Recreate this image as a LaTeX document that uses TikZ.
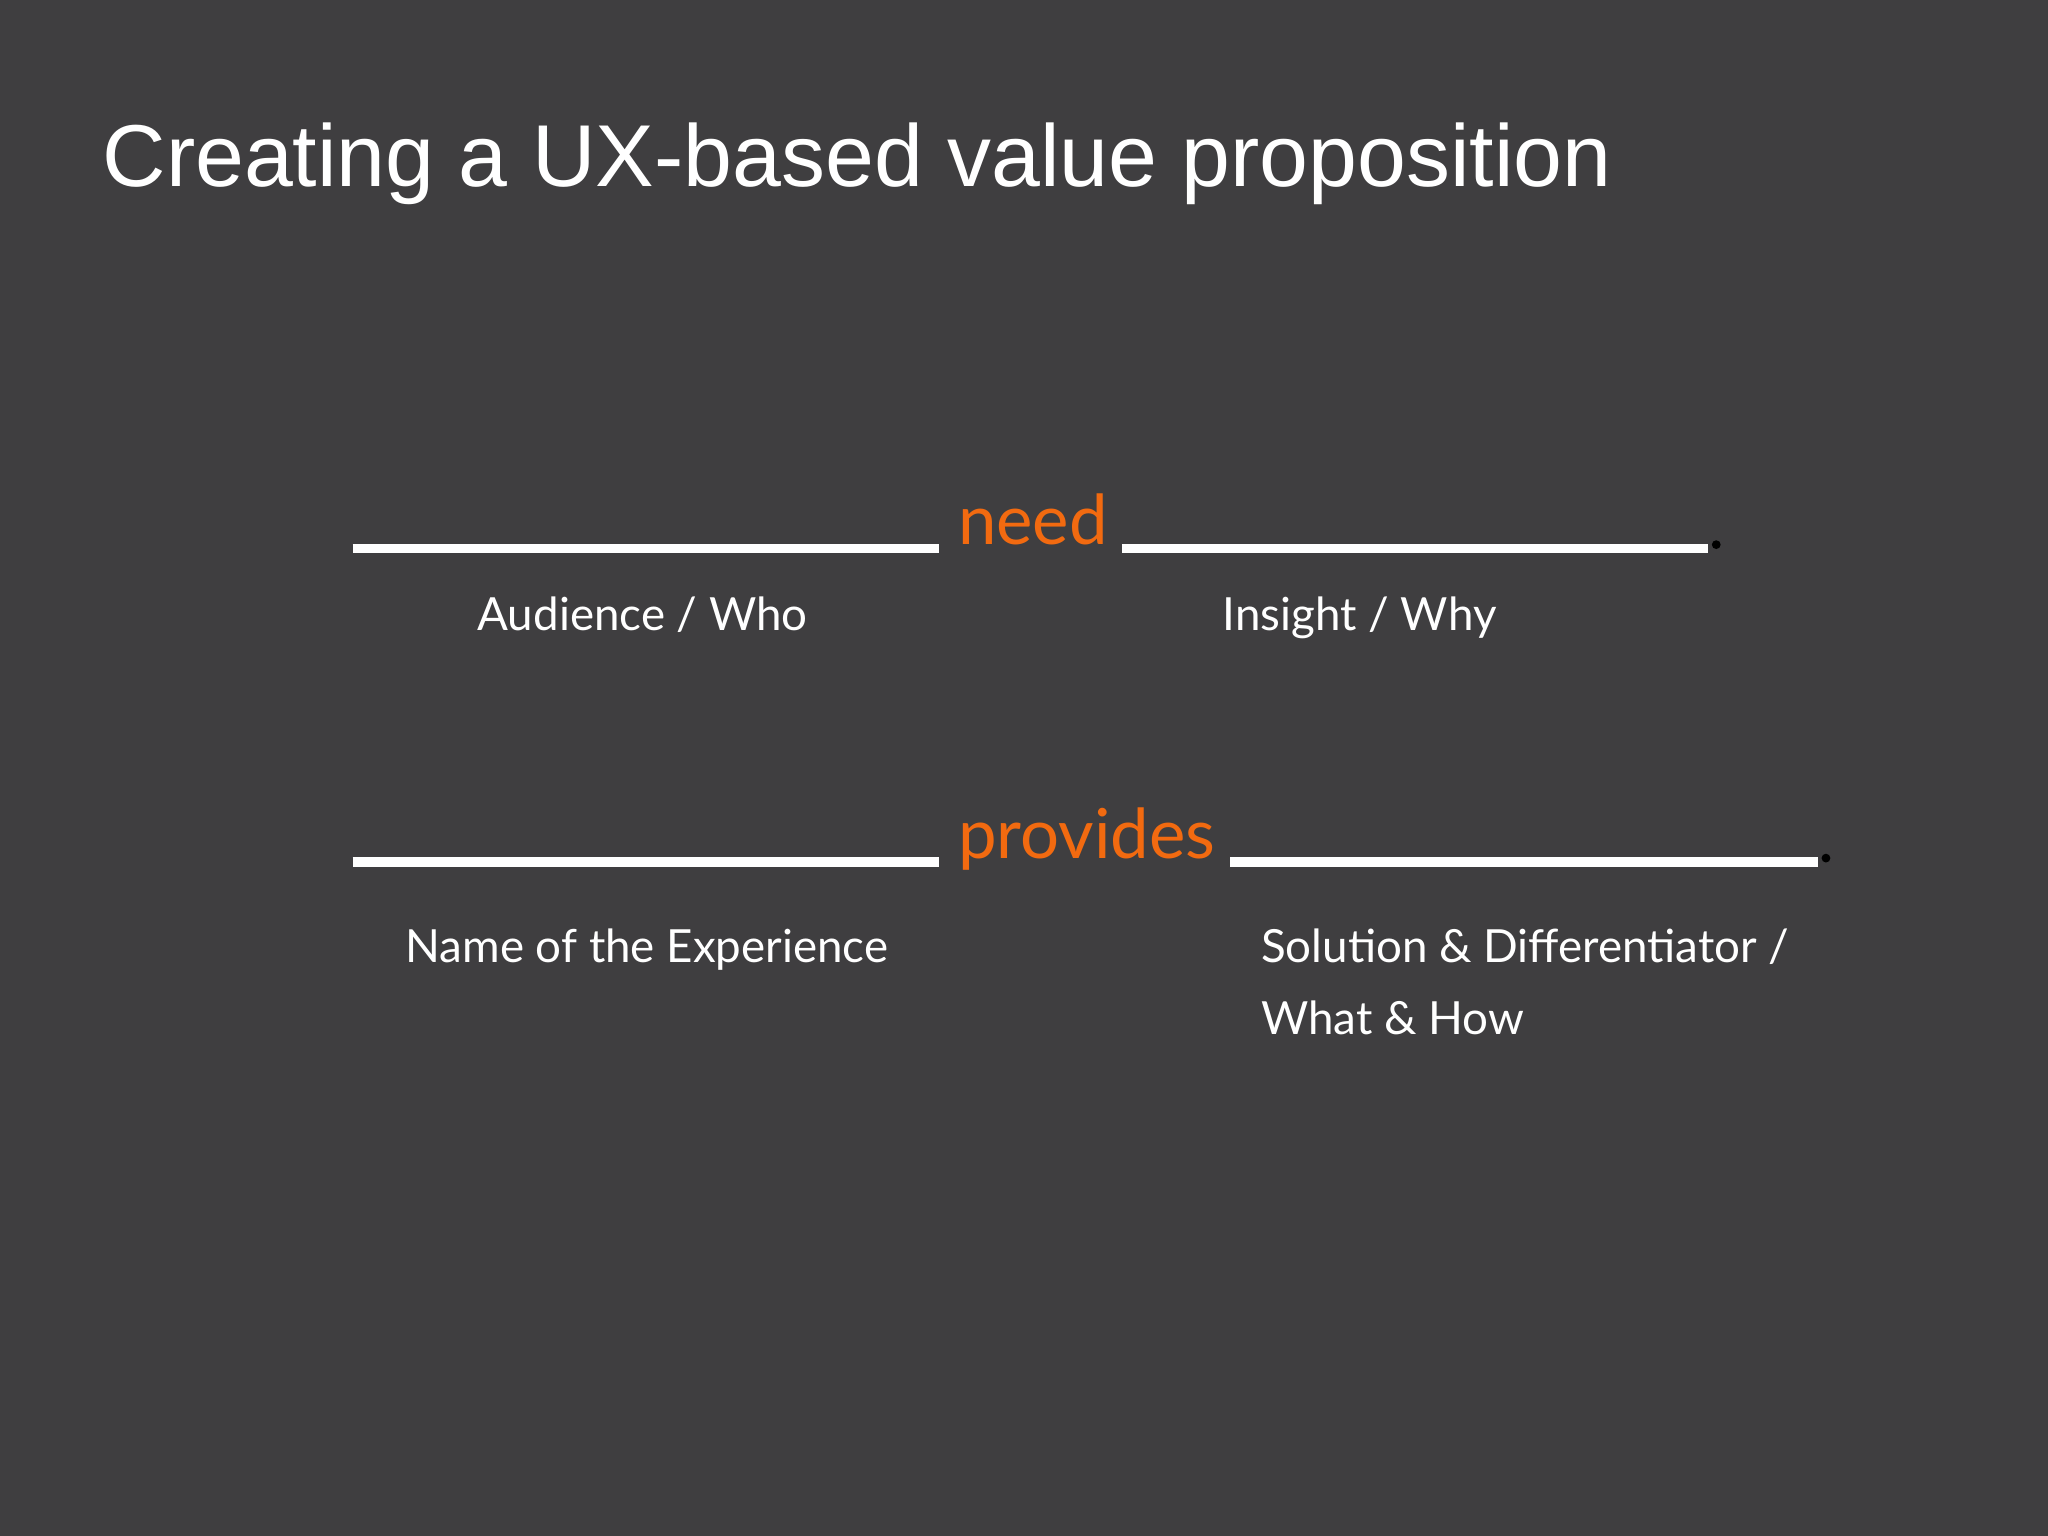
\documentclass[tikz,border=0pt]{standalone}
\usepackage{fontspec}
\setmainfont{Lato}
\newfontfamily\titlefont{Liberation Sans}
\definecolor{bg}{HTML}{3F3E40}
\definecolor{org}{HTML}{F26A10}
\begin{document}
\begin{tikzpicture}[x=0.013061cm,y=-0.013061cm,
  blank/.style={draw=white,line width=2.6pt},
  key/.style={anchor=base west,inner sep=0,text=org,font=\fontsize{19.6}{24}\selectfont},
  lab/.style={anchor=base west,inner sep=0,text=white,font=\fontsize{13}{16}\selectfont},
  dotn/.style={fill=black,circle,inner sep=0,minimum size=2.5pt}]
\fill[bg] (0,0) rectangle (1568,1176);
\useasboundingbox (0,0) rectangle (1568,1176);
\node[anchor=base west,inner sep=0,text=white,font=\titlefont\fontsize{25}{30}\selectfont] (title) at (78,143) {Creating a UX-based value proposition};
\coordinate (a1) at (270,420); \coordinate (a2) at (719,420);
\coordinate (b1) at (859,420); \coordinate (b2) at (1308,420);
\coordinate (c1) at (270,660); \coordinate (c2) at (719,660);
\coordinate (d1) at (942,660); \coordinate (d2) at (1392,660);
\draw[blank] (a1) -- (a2); \draw[blank] (b1) -- (b2);
\draw[blank] (c1) -- (c2); \draw[blank] (d1) -- (d2);
\node[dotn] (p1) at (1314,417) {};
\node[dotn] (p2) at (1398,657) {};
\node[key] (need) at (733,417) {need};
\node[key] (prov) at (733,657) {provides};
\node[lab,anchor=base] (aud) at (492,483) {Audience / Who};
\node[lab,anchor=base] (ins) at (1041,483) {Insight / Why};
\node[lab] (name) at (310,737) {Name of the Experience};
\node[lab] (sol) at (965,737) {Solution \& Differentiator /};
\node[lab] (what) at (965,792) {What \& How};
\end{tikzpicture}
\end{document}
